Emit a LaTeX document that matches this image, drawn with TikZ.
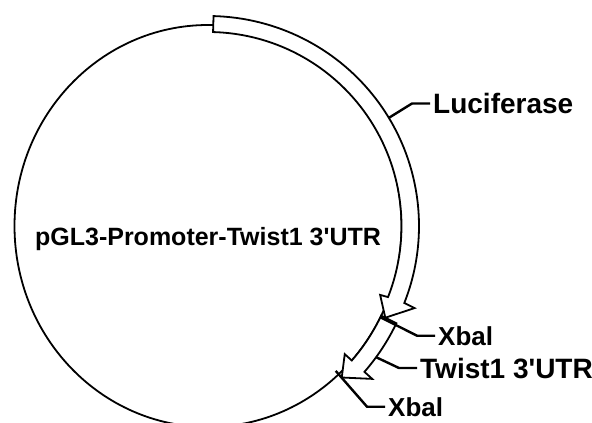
\documentclass[tikz,border=0pt]{standalone}
\usepackage{fontspec}
\setmainfont{Liberation Sans}
\usetikzlibrary{calc}

\tikzset{
  backbone/.style={line width=1.8pt},
  feature/.style={line width=1.8pt, fill=white},
  leader/.style={line width=2.4pt},
  tag/.style={anchor=base west, inner xsep=3pt, inner ysep=0pt,
    font=\bfseries\fontsize{28}{30}\selectfont},
}

\begin{document}
\begin{tikzpicture}[x=1pt,y=1pt]
    \useasboundingbox (0,0) rectangle (592,-423);
    \clip (0,0) rectangle (592,-423);
    %% plasmid
    \coordinate (C) at (208,-226);
    \draw [backbone] (C) ellipse [x radius=193.5, y radius=201];
    \node [font=\bfseries\fontsize{25}{28}\selectfont, anchor=base] (pname) at (208,-245) {pGL3-Promoter-Twist1 3\textquotesingle UTR};
    %% Luciferase
    \draw [feature] ($(C)+(88.5:193.5 and 194)$) arc [start angle=88.5, end angle=-21.5, x radius=193.5, y radius=194]
      -- ($(C)+(-21.5:185 and 188)$) -- ($(C)+(-27:199 and 202)$) -- ($(C)+(-21.5:222 and 224)$)
      -- ($(C)+(-21.5:211 and 210)$) arc [start angle=-21.5, end angle=88.5, x radius=211, y radius=210] -- cycle;
    %% Twist1 3'UTR
    \draw [feature] ($(C)+(-26.5:193.5 and 201)$) arc [start angle=-26.5, end angle=-42, x radius=193.5, y radius=201]
      -- ($(C)+(-42:184 and 191.5)$) -- ($(C)+(-47.5:198 and 205.5)$) -- ($(C)+(-42:221 and 228.5)$)
      -- ($(C)+(-42:210.5 and 218)$) arc [start angle=-42, end angle=-26.5, x radius=210.5, y radius=218] -- cycle;
    %% labels
    \node [tag] (luc) at (430,-113.5) {Luciferase};
    \node [tag, font=\bfseries\fontsize{26}{30}\selectfont] (xba1) at (435,-345) {Xbal};
    \node [tag] (utr) at (417,-378) {Twist1 3\textquotesingle UTR};
    \node [tag, font=\bfseries\fontsize{26}{30}\selectfont] (xba2) at (385,-416) {Xbal};
    \coordinate (lucA) at ($(C)+(31:211 and 210)$);
    \coordinate (xba1A) at ($(C)+(-27:193.5 and 201)$);
    \coordinate (utrA) at ($(C)+(-37:210.5 and 218)$);
    \coordinate (xba2A) at ($(C)+(-47.5:189 and 196.5)$);
    \draw [leader] (lucA) -- ([xshift=-18pt]luc.west) -- (luc.west);
    \draw [leader] (xba1A) -- ([xshift=-18pt]xba1.west) -- (xba1.west);
    \draw [leader] (utrA) -- ([xshift=-18pt]utr.west) -- (utr.west);
    \draw [leader] (xba2A) -- ([xshift=-18pt]xba2.west) -- (xba2.west);
\end{tikzpicture}
\end{document}
